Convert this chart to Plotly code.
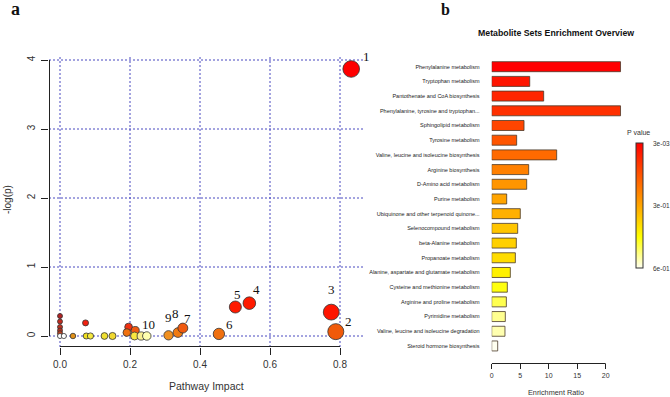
import plotly.graph_objects as go

W, H = 670, 397

# ---------------- Panel a: pathway impact bubble plot ----------------
impact = [0.0, 0.0, 0.0, 0.0, 0.0, 0.0, 0.011, 0.037, 0.073, 0.075, 0.087, 0.127, 0.15,
          0.196, 0.215, 0.191, 0.213, 0.232,
          0.248, 0.31, 0.337, 0.351, 0.454, 0.501, 0.541, 0.775, 0.788, 0.832]
neglogp = [0.29, 0.21, 0.13, 0.08, 0.04, 0.0, 0.0, 0.0, 0.19, 0.0, 0.0, 0.0, 0.0,
           0.13, 0.08, 0.05, 0.0, 0.0,
           0.0, 0.01, 0.05, 0.115, 0.03, 0.42, 0.476, 0.346, 0.063, 3.87]
point_colors = ['#B22222', '#BF2A1E', '#C0301E', '#B8301E', '#C0401E', '#FFFFFF', '#FFFFFF',
                '#E0901A', '#F02010', '#F0E020', '#F5E840', '#F0E030', '#F0D830',
                '#F03010', '#F05A10', '#F07010', '#F8E840', '#FAF090',
                '#FFFFB0', '#F09020', '#F07A10', '#F05A10', '#F07010', '#FF1A00', '#FF1A00',
                '#FF1500', '#F05A0A', '#FF0000']
point_labels = ['', '', '', '', '', '', '', '', '', '', '', '', '',
                '', '', '', '', '',
                '10', '9', '8', '7', '6', '5', '4', '3', '2', '1']
# pixel offsets of the number labels from their bubble
label_dx = {'1': 15, '2': 13, '3': 0, '4': 7, '5': 2, '6': 11, '7': 5, '8': -2, '9': 0, '10': 2}
label_dy = {'1': 12, '2': 10, '3': 23, '4': 14, '5': 13, '6': 9, '7': 10, '8': 19, '9': 18, '10': 12}
x_ticks = [0, 0.2, 0.4, 0.6, 0.8]
x_ticktext = ['0.0', '0.2', '0.4', '0.6', '0.8']
y_ticks = [0, 1, 2, 3, 4]

# ---------------- Panel b: enrichment overview ----------------
pathways = ['Phenylalanine metabolism', 'Tryptophan metabolism',
            'Pantothenate and CoA biosynthesis', 'Phenylalanine, tyrosine and tryptophan...',
            'Sphingolipid metabolism', 'Tyrosine metabolism',
            'Valine, leucine and isoleucine biosynthesis', 'Arginine biosynthesis',
            'D-Amino acid metabolism', 'Purine metabolism',
            'Ubiquinone and other terpenoid quinone...', 'Selenocompound metabolism',
            'beta-Alanine metabolism', 'Propanoate metabolism',
            'Alanine, aspartate and glutamate metabolism', 'Cysteine and methionine metabolism',
            'Arginine and proline metabolism', 'Pyrimidine metabolism',
            'Valine, leucine and isoleucine degradation', 'Steroid hormone biosynthesis']
enrichment_ratio = [22.6, 6.67, 9.12, 22.6, 5.67, 4.38, 11.4, 6.49, 6.14, 2.63,
                    5.02, 4.56, 4.32, 4.15, 3.27, 2.74, 2.57, 2.39, 2.33, 1.05]
p_values = [0.003, 0.041, 0.07, 0.09, 0.128, 0.157, 0.195, 0.235, 0.273, 0.30,
            0.32, 0.355, 0.373, 0.393, 0.426, 0.46, 0.50, 0.54, 0.56, 0.60]
x2_ticks = [0, 5, 10, 15, 20]
cbar_ticks = [0.003, 0.3, 0.6]
cbar_ticktext = ['3e-03', '3e-01', '6e-01']

SANS = 'Liberation Sans, Arial, sans-serif'
SERIF = 'Liberation Serif, Times New Roman, serif'

def px_x(p):
    return p / W

def px_y(p):
    return (H - p) / H

fig = go.Figure()

sizes = [5 + 14 * v for v in impact]
fig.add_trace(go.Scatter(
    x=impact, y=neglogp, mode='markers', xaxis='x', yaxis='y',
    marker=dict(size=sizes, color=point_colors, opacity=1,
                line=dict(color='#333333', width=0.8)),
    cliponaxis=False, hoverinfo='skip', showlegend=False))

annotations = []
for xi, yi, lab in zip(impact, neglogp, point_labels):
    if lab:
        annotations.append(dict(x=xi, y=yi, xref='x', yref='y', text=lab, showarrow=False,
                                xanchor='center', yanchor='middle',
                                xshift=label_dx[lab], yshift=label_dy[lab],
                                font=dict(family=SERIF, size=13, color='#111')))

cscale = [[0, '#FFFFF0'], [0.25, '#FFFF00'], [0.5, '#FFA500'], [1, '#FF0000']]
fig.add_trace(go.Bar(
    x=enrichment_ratio, y=pathways, orientation='h', xaxis='x2', yaxis='y2', width=0.68,
    marker=dict(color=[-p for p in p_values], colorscale=cscale, cmin=-max(cbar_ticks),
                cmax=-min(cbar_ticks), line=dict(color='#4a3a2a', width=0.8),
                showscale=True,
                colorbar=dict(x=px_x(635.7), xanchor='left', xpad=0,
                              y=px_y(143.3), yanchor='top', ypad=0,
                              len=125 / H, lenmode='fraction',
                              thickness=7, thicknessmode='pixels',
                              outlinewidth=1, outlinecolor='#333',
                              showticklabels=False, ticks='')),
    hoverinfo='skip', showlegend=False))

# panel a pixel frame
A_LEFT, A_RIGHT, A_TOP, A_BOT = 49, 365, 57, 347
X0_PX, PX_PER_X = 60.0, 350.0
Y0_PX, PX_PER_Y = 336.0, 69.0

grid_col = '#4848c0'
fig.update_layout(
    template='none',
    width=W, height=H, margin=dict(l=0, r=0, t=0, b=0, pad=0, autoexpand=False),
    paper_bgcolor='white', plot_bgcolor='white',
    xaxis=dict(domain=[px_x(A_LEFT), px_x(A_RIGHT)],
               range=[(A_LEFT - X0_PX) / PX_PER_X, (A_RIGHT - X0_PX) / PX_PER_X], anchor='y',
               tickvals=x_ticks, ticktext=x_ticktext,
               showgrid=False, zeroline=False, showline=False, ticks='outside', ticklen=7,
               tickwidth=1, tickcolor='#222', automargin=False, ticklabelstandoff=1,
               tickfont=dict(family=SANS, size=10, color='#333')),
    yaxis=dict(domain=[px_y(A_BOT), px_y(A_TOP)],
               range=[(Y0_PX - A_BOT) / PX_PER_Y, (Y0_PX - A_TOP) / PX_PER_Y], anchor='x',
               tickvals=y_ticks, tickangle=-90,
               showgrid=False, zeroline=False, showline=False, ticks='outside', ticklen=7,
               tickwidth=1, tickcolor='#222', automargin=False, ticklabelstandoff=2,
               tickfont=dict(family=SANS, size=10, color='#333')),
    xaxis2=dict(domain=[px_x(491.7), px_x(491.7 + 23.5 * 5.7)], range=[0, 23.5], anchor='y2',
                tickvals=x2_ticks, showgrid=False, zeroline=False, showline=False,
                ticks='outside', ticklen=5, tickwidth=1, tickcolor='#222', automargin=False,
                tickfont=dict(family=SANS, size=7, color='#333')),
    yaxis2=dict(domain=[px_y(363.3), px_y(55)], type='category', range=[20.18, -0.796],
                anchor='x2', showgrid=False, zeroline=False, showline=False,
                ticks='outside', ticklen=10, tickcolor='rgba(0,0,0,0)', automargin=False,
                tickfont=dict(family=SANS, size=5.5, color='#222')),
)

# dotted blue grid (R abline style) spanning the full plot region of panel a
shapes = []
for xv in x_ticks:
    shapes.append(dict(type='line', xref='x', yref='paper', x0=xv, x1=xv,
                       y0=px_y(A_BOT), y1=px_y(A_TOP), layer='below',
                       line=dict(color=grid_col, width=1, dash='2px,2px')))
for yv in y_ticks:
    shapes.append(dict(type='line', xref='paper', yref='y', x0=px_x(A_LEFT), x1=px_x(A_RIGHT),
                       y0=yv, y1=yv, layer='below',
                       line=dict(color=grid_col, width=1, dash='2px,2px')))
shapes += [
    dict(type='line', xref='x', yref='paper', x0=min(x_ticks), x1=max(x_ticks),
         y0=px_y(A_BOT - 0.5), y1=px_y(A_BOT - 0.5), line=dict(color='#222', width=1)),
    dict(type='line', xref='paper', yref='y', x0=px_x(A_LEFT + 0.5), x1=px_x(A_LEFT + 0.5),
         y0=min(y_ticks), y1=max(y_ticks), line=dict(color='#222', width=1)),
    dict(type='line', xref='x2', yref='paper', x0=min(x2_ticks), x1=max(x2_ticks),
         y0=px_y(363.5), y1=px_y(363.5), line=dict(color='#222', width=1)),
]

def note(x, y, text, size, family=SANS, color='#333', **kw):
    d = dict(x=px_x(x), y=px_y(y), xref='paper', yref='paper', text=text, showarrow=False,
             xanchor='center', yanchor='middle', font=dict(family=family, size=size, color=color))
    d.update(kw)
    return d

annotations += [
    note(15.8, 9.5, '<b>a</b>', 18, SERIF, '#111'),
    note(445.7, 9, '<b>b</b>', 16, SERIF, '#111'),
    note(7, 200, '-log(p)', 10, textangle=-90),
    note(206, 386, 'Pathway Impact', 10.5),
    note(555.7, 33, '<b>Metabolite Sets Enrichment Overview</b>', 8.75, color='#111'),
    note(555.7, 392, 'Enrichment Ratio', 7.3),
    note(638.3, 132.3, 'P value', 7),
]
cb_top, cb_bot = 143.3, 268.3
for v, t in zip(cbar_ticks, cbar_ticktext):
    frac = (v - min(cbar_ticks)) / (max(cbar_ticks) - min(cbar_ticks))
    ypx = cb_top + frac * (cb_bot - cb_top)
    annotations.append(note(651, ypx, t, 6.5, xanchor='left'))

fig.update_layout(shapes=shapes, annotations=annotations)
fig.write_html('out.html', config={'displayModeBar': False, 'staticPlot': True},
               post_script="document.body.style.margin='0';document.body.style.padding='0';")
